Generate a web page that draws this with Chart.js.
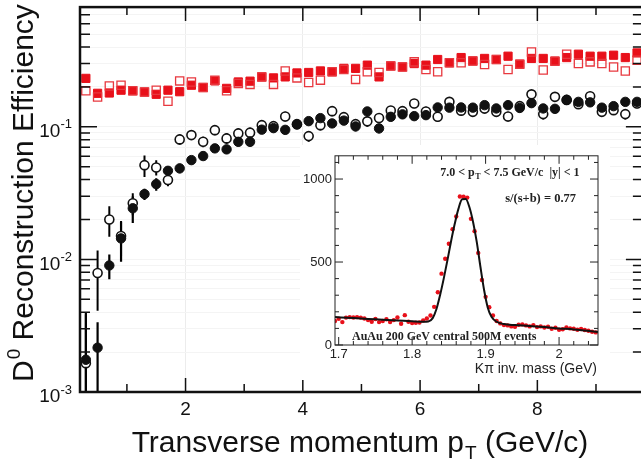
<!DOCTYPE html>
<html>
<head>
<meta charset="utf-8">
<script src="https://cdn.jsdelivr.net/npm/chart.js@4.4.0/dist/chart.umd.min.js"></script>
<style>
    html, body { margin: 0; padding: 0; background: #fff; overflow: hidden; }
    #wrap { position: relative; width: 641px; height: 468px; overflow: hidden; }
    #main { position: absolute; left: 0; top: 0; }
    #inset { position: absolute; left: 300px; top: 145px; }
</style>
</head>
<body>
<div id="wrap">
    <canvas id="main" width="650" height="468"></canvas>
    <canvas id="inset" width="310" height="235"></canvas>
</div>
<script>
// main plot: efficiency vs pT
const ptBins = [0.3, 0.5, 0.7, 0.9, 1.1, 1.3, 1.5, 1.7, 1.9, 2.1, 2.3, 2.5, 2.7, 2.9, 3.1, 3.3,
    3.5, 3.7, 3.9, 4.1, 4.3, 4.5, 4.7, 4.9, 5.1, 5.3, 5.5, 5.7, 5.9, 6.1, 6.3, 6.5,
    6.7, 6.9, 7.1, 7.3, 7.5, 7.7, 7.9, 8.1, 8.3, 8.5, 8.7, 8.9, 9.1, 9.3, 9.5, 9.7];
const redFilled = [0.232, 0.179, 0.180, 0.189, 0.187, 0.183, 0.176, 0.189, 0.184, 0.206, 0.198, 0.222, 0.195, 0.218, 0.221, 0.238,
    0.234, 0.238, 0.255, 0.257, 0.264, 0.260, 0.276, 0.276, 0.292, 0.238, 0.288, 0.283, 0.300, 0.292, 0.322, 0.304,
    0.333, 0.314, 0.328, 0.322, 0.341, 0.297, 0.328, 0.328, 0.313, 0.333, 0.353, 0.341, 0.341, 0.347, 0.333, 0.361];
const redOpen = [0.187, 0.168, 0.203, 0.206, 0.187, 0.183, 0.189, 0.156, 0.222, 0.218, 0.198, 0.225, 0.187, 0.212, 0.209, 0.238,
    0.209, 0.264, 0.234, 0.216, 0.225, 0.260, 0.271, 0.228, 0.260, 0.257, 0.288, 0.283, 0.309, 0.271, 0.260, 0.304,
    0.304, 0.314, 0.295, 0.322, 0.271, 0.297, 0.367, 0.268, 0.313, 0.353, 0.300, 0.309, 0.300, 0.283, 0.264, 0.318];
const blackFilled = [0.00175, 0.00216, 0.0090, 0.0144, 0.0243, 0.0311, 0.0370, 0.0466, 0.0486, 0.0561, 0.0602, 0.0688, 0.0676, 0.0771, 0.0771, 0.0952,
    0.0978, 0.0949, 0.1044, 0.1104, 0.1163, 0.1061, 0.1114, 0.1007, 0.1306, 0.0973, 0.1190, 0.1242, 0.1204, 0.1225, 0.1400, 0.1395,
    0.1400, 0.1395, 0.1457, 0.1376, 0.1457, 0.1388, 0.1509, 0.1376, 0.1367, 0.1597, 0.1543, 0.1530, 0.1395, 0.1432, 0.1543, 0.1543];
const blackFilledErr = [0.0022, 0.0012, 0.0019, 0.0048, 0.0055, 0.003, 0.004, 0.003, 0.004, 0.004, 0.004, 0.005, 0.005, 0.006, 0.006, 0.007,
    0.007, 0.007, 0.008, 0.008, 0.008, 0.008, 0.008, 0.008, 0.009, 0.008, 0.009, 0.009, 0.009, 0.009, 0.010, 0.010,
    0.010, 0.010, 0.010, 0.010, 0.010, 0.010, 0.011, 0.010, 0.010, 0.011, 0.011, 0.011, 0.010, 0.010, 0.011, 0.011];
const blackOpen = [0.00165, 0.0079, 0.0200, 0.0150, 0.0265, 0.0514, 0.0494, 0.0397, 0.0804, 0.0866, 0.0771, 0.0944, 0.0818, 0.0892, 0.0904, 0.1030,
    0.1012, 0.1198, 0.1048, 0.0851, 0.1030, 0.1313, 0.1183, 0.1048, 0.1100, 0.1167, 0.1329, 0.1313, 0.1500, 0.1306, 0.1190, 0.1543,
    0.1325, 0.1297, 0.1376, 0.1297, 0.1198, 0.1432, 0.1758, 0.1247, 0.1683, 0.1597, 0.1483, 0.1703, 0.1297, 0.1336, 0.1247, 0.1500];
const blackOpenErr = [0.0022, 0.0038, 0.0052, 0.0045, 0.005, 0.0095, 0.0065, 0.004, 0.007, 0.007, 0.007, 0.008, 0.008, 0.008, 0.008, 0.009,
    0.009, 0.010, 0.009, 0.008, 0.009, 0.011, 0.010, 0.009, 0.010, 0.010, 0.011, 0.011, 0.012, 0.011, 0.010, 0.013,
    0.011, 0.011, 0.012, 0.011, 0.010, 0.012, 0.014, 0.011, 0.014, 0.013, 0.012, 0.014, 0.011, 0.011, 0.011, 0.012];
const yDecades = [0.001, 0.01, 0.1];
const yDecadeLabels = ['-3', '-2', '-1'];
const xMajor = [2, 4, 6, 8];
const xMajorLabels = ['2', '4', '6', '8'];
const xMinor = [1, 3, 5, 7, 9];

// inset: invariant mass peak
const massBins = [1.695, 1.700, 1.705, 1.710, 1.715, 1.720, 1.725, 1.730, 1.735, 1.740,
    1.745, 1.750, 1.755, 1.760, 1.765, 1.770, 1.775, 1.780, 1.785, 1.790,
    1.795, 1.800, 1.805, 1.810, 1.815, 1.820, 1.825, 1.830, 1.835, 1.840,
    1.845, 1.850, 1.855, 1.860, 1.865, 1.870, 1.875, 1.880, 1.885, 1.890,
    1.895, 1.900, 1.905, 1.910, 1.915, 1.920, 1.925, 1.930, 1.935, 1.940,
    1.945, 1.950, 1.955, 1.960, 1.965, 1.970, 1.975, 1.980, 1.985, 1.990,
    1.995, 2.000, 2.005, 2.010, 2.015, 2.020, 2.025, 2.030, 2.035, 2.040,
    2.045, 2.050];
const massCounts = [145, 158, 138, 165, 168, 166, 168, 165, 160, 150,
    140, 157, 138, 145, 155, 138, 150, 166, 128, 180,
    140, 133, 134, 136, 148, 160, 178, 230, 318, 430,
    520, 610, 698, 775, 895, 893, 888, 760, 686, 555,
    392, 290, 228, 178, 145, 130, 120, 118, 112, 110,
    122, 124, 118, 112, 120, 108, 112, 105, 110, 98,
    104, 92, 95, 105, 100, 98, 92, 96, 90, 86,
    80, 76];
const fitMass = [1.695, 1.72, 1.75, 1.78, 1.80, 1.815, 1.822, 1.828, 1.833, 1.838, 1.843, 1.848, 1.853, 1.858, 1.863, 1.868,
    1.873, 1.878, 1.883, 1.888, 1.893, 1.898, 1.903, 1.908, 1.915, 1.925, 1.94, 1.96, 1.98, 2.0, 2.02, 2.035, 2.053];
const fitCounts = [168, 162, 155, 148, 143, 140, 142, 162, 215, 300, 400, 510, 625, 730, 820, 878,
    880, 830, 740, 620, 470, 330, 225, 170, 140, 126, 120, 115, 108, 100, 94, 87, 78];
const massMajor = [1.7, 1.8, 1.9, 2.0];
const massMajorLabels = ['1.7', '1.8', '1.9', '2'];
const countMajor = [0, 500, 1000];
const countMajorLabels = ['0', '500', '1000'];

const SANS = '"Liberation Sans", Arial, sans-serif';
const SERIF = '"Liberation Serif", "Times New Roman", serif';
const red = '#e8101a';
Chart.defaults.font.family = SANS;

const toXY = (xs, ys) => xs.map((x, i) => ({x: x, y: ys[i]}));

// tick positions (not data)
const yTicks = [];
yDecades.forEach(d => {
    for (let m = 1; m <= 9; m++) {
        const v = +(d * m).toPrecision(3);
        if (v <= 0.8) yTicks.push(v);
    }
});
const xTicks = xMajor.concat(xMinor).sort((a, b) => a - b);
const massTicks = [];
for (let v = 1.70; v < 2.051; v += 0.02) massTicks.push(Math.round(v * 100) / 100);
massMajor.forEach(v => { if (!massTicks.includes(v)) massTicks.push(v); });
massTicks.sort((a, b) => a - b);
const countTicks = [];
for (let v = 0; v <= 1100; v += 100) countTicks.push(v);

function drawInnerTicks(ctx, area, scale, isMajor, majorLen, minorLen) {
    ctx.beginPath();
    scale.ticks.forEach(t => {
        const len = isMajor(t.value) ? majorLen : minorLen;
        const p = scale.getPixelForValue(t.value);
        if (scale.isHorizontal()) {
            ctx.moveTo(p, area.bottom); ctx.lineTo(p, area.bottom - len);
            ctx.moveTo(p, area.top); ctx.lineTo(p, area.top + len);
        } else {
            ctx.moveTo(area.left, p); ctx.lineTo(area.left + len, p);
            ctx.moveTo(area.right, p); ctx.lineTo(area.right - len, p);
        }
    });
    ctx.stroke();
}

function drawErrors(chart, values, errs, width) {
    const {ctx, chartArea, scales: {x, y}} = chart;
    ctx.save();
    ctx.beginPath();
    ctx.rect(chartArea.left, chartArea.top, chartArea.width, chartArea.height);
    ctx.clip();
    ctx.strokeStyle = '#000';
    ctx.lineWidth = width;
    ctx.beginPath();
    values.forEach((v, i) => {
        const px = x.getPixelForValue(ptBins[i]);
        const lo = v - errs[i];
        const top = y.getPixelForValue(v + errs[i]);
        const bot = lo > 0 ? y.getPixelForValue(lo) : chartArea.bottom + 5;
        ctx.moveTo(px, top);
        ctx.lineTo(px, bot);
    });
    ctx.stroke();
    ctx.restore();
}

const mainDecor = {
    id: 'mainDecor',
    beforeDraw(chart) {
        const ctx = chart.ctx;
        ctx.save();
        ctx.fillStyle = '#fff';
        ctx.fillRect(0, 0, chart.width, chart.height);
        ctx.restore();
    },
    beforeDatasetsDraw(chart) {
        drawErrors(chart, blackOpen, blackOpenErr, 2);
        drawErrors(chart, blackFilled, blackFilledErr, 2.2);
    },
    afterDraw(chart) {
        const {ctx, chartArea: a, scales: {x, y}} = chart;
        ctx.save();
        ctx.strokeStyle = '#111';
        ctx.lineWidth = 1.5;
        drawInnerTicks(ctx, a, x, v => xMajor.includes(v), 14, 8);
        drawInnerTicks(ctx, a, y, v => yDecades.includes(v), 17, 10);
        ctx.lineWidth = 2.5;
        ctx.strokeRect(a.left, a.top, a.right - a.left, a.bottom - a.top);

        // y labels 10^n
        ctx.fillStyle = '#111';
        ctx.textBaseline = 'middle';
        yDecades.forEach((d, i) => {
            const py = y.getPixelForValue(d);
            ctx.font = '13px ' + SANS;
            const ew = ctx.measureText(yDecadeLabels[i]).width;
            const right = a.left - 8;
            ctx.textAlign = 'left';
            ctx.fillText(yDecadeLabels[i], right - ew, py - 2);
            ctx.font = '19px ' + SANS;
            ctx.textAlign = 'right';
            ctx.fillText('10', right - ew, py + 5);
        });

        // y title
        ctx.save();
        ctx.translate(33, (a.top + a.bottom) / 2 - 6);
        ctx.rotate(-Math.PI / 2);
        ctx.textBaseline = 'alphabetic';
        ctx.textAlign = 'left';
        ctx.font = '30px ' + SANS;
        const wD = ctx.measureText('D').width;
        const rest = ' Reconstruction Efficiency';
        const wRest = ctx.measureText(rest).width;
        ctx.font = '19px ' + SANS;
        const w0 = ctx.measureText('0').width;
        let sx = -(wD + w0 + wRest) / 2;
        ctx.font = '30px ' + SANS;
        ctx.fillText('D', sx, 0);
        ctx.font = '19px ' + SANS;
        ctx.fillText('0', sx + wD + 1, -13);
        ctx.font = '30px ' + SANS;
        ctx.fillText(rest, sx + wD + w0 + 1, 0);
        ctx.restore();

        // x title
        ctx.textBaseline = 'alphabetic';
        ctx.textAlign = 'left';
        const t1 = 'Transverse momentum p', t2 = 'T', t3 = ' (GeV/c)';
        ctx.font = '30px ' + SANS;
        const w1 = ctx.measureText(t1).width, w3 = ctx.measureText(t3).width;
        ctx.font = '19px ' + SANS;
        const w2 = ctx.measureText(t2).width;
        const cx = (a.left + a.right) / 2 - 2;
        let tx = cx - (w1 + w2 + w3) / 2;
        const base = 452;
        ctx.font = '30px ' + SANS;
        ctx.fillText(t1, tx, base);
        ctx.font = '19px ' + SANS;
        ctx.fillText(t2, tx + w1 + 1, base + 7);
        ctx.font = '30px ' + SANS;
        ctx.fillText(t3, tx + w1 + w2 + 1, base);
        ctx.restore();
    }
};

new Chart(document.getElementById('main'), {
    type: 'scatter',
    data: {
        datasets: [
            {
                label: 'red filled', data: toXY(ptBins, redFilled), pointStyle: 'rect', pointRadius: 5.8,
                backgroundColor: red, borderColor: red, borderWidth: 1, order: 4
            },
            {
                label: 'red open', data: toXY(ptBins, redOpen), pointStyle: 'rect', pointRadius: 5.8,
                backgroundColor: 'rgba(0,0,0,0)', borderColor: '#e8383f', borderWidth: 1.3, order: 3
            },
            {
                label: 'black open', data: toXY(ptBins, blackOpen), pointStyle: 'circle', pointRadius: 4.5,
                backgroundColor: '#fff', borderColor: '#111', borderWidth: 1.6, order: 2
            },
            {
                label: 'black filled', data: toXY(ptBins, blackFilled), pointStyle: 'circle', pointRadius: 4.7,
                backgroundColor: '#111', borderColor: '#111', borderWidth: 1, order: 1
            }
        ]
    },
    options: {
        responsive: false,
        animation: false,
        devicePixelRatio: 1,
        layout: {padding: {top: 6, right: 6, left: 0, bottom: 0}},
        plugins: {legend: {display: false}, tooltip: {enabled: false}},
        scales: {
            x: {
                type: 'linear', min: 0.2, max: 9.8,
                afterBuildTicks: s => { s.ticks = xTicks.map(v => ({value: v})); },
                afterFit: s => { s.height = 76; },
                ticks: {
                    autoSkip: false, maxRotation: 0, padding: 6, color: '#111',
                    font: {size: 19, family: SANS},
                    callback: v => { const i = xMajor.indexOf(v); return i >= 0 ? xMajorLabels[i] : ''; }
                },
                grid: {drawTicks: false, color: c => (c.tick && xMajor.includes(c.tick.value)) ? '#ececec' : 'rgba(0,0,0,0)'},
                border: {display: false}
            },
            y: {
                type: 'logarithmic', min: 0.001, max: 0.8,
                afterBuildTicks: s => { s.ticks = yTicks.map(v => ({value: v})); },
                afterFit: s => { s.width = 80; },
                ticks: {display: false},
                grid: {drawTicks: false, color: '#f4f4f4'},
                border: {display: false}
            }
        }
    },
    plugins: [mainDecor]
});

const insetDecor = {
    id: 'insetDecor',
    beforeDraw(chart) {
        const ctx = chart.ctx;
        ctx.save();
        ctx.fillStyle = '#fff';
        ctx.fillRect(0, 0, chart.width, chart.height);
        ctx.restore();
    },
    afterDraw(chart) {
        const {ctx, chartArea: a, scales: {x, y}} = chart;
        ctx.save();
        ctx.strokeStyle = '#222';
        ctx.lineWidth = 1;
        drawInnerTicks(ctx, a, x, v => massMajor.includes(v), 8, 4);
        drawInnerTicks(ctx, a, y, v => countMajor.includes(v), 8, 4);
        ctx.strokeRect(a.left, a.top, a.right - a.left, a.bottom - a.top);

        ctx.fillStyle = '#222';
        ctx.textBaseline = 'alphabetic';
        // pT window label, right aligned
        const p1 = '7.0 < p', p2 = 'T', p3 = ' < 7.5 GeV/c  |y| < 1';
        ctx.font = 'bold 12px ' + SERIF;
        const w1 = ctx.measureText(p1).width, w3 = ctx.measureText(p3).width;
        ctx.font = 'bold 8px ' + SERIF;
        const w2 = ctx.measureText(p2).width;
        let tx = a.right - 19 - (w1 + w2 + w3);
        const b1 = a.top + 20.5;
        ctx.font = 'bold 12px ' + SERIF;
        ctx.textAlign = 'left';
        ctx.fillText(p1, tx, b1);
        ctx.font = 'bold 8px ' + SERIF;
        ctx.fillText(p2, tx + w1 + 0.5, b1 + 3);
        ctx.font = 'bold 12px ' + SERIF;
        ctx.fillText(p3, tx + w1 + w2 + 0.5, b1);

        ctx.textAlign = 'right';
        ctx.font = 'bold 12.5px ' + SERIF;
        ctx.fillText('s/(s+b) = 0.77', a.right - 22, a.top + 46.5);

        ctx.textAlign = 'left';
        ctx.font = 'bold 12px ' + SERIF;
        ctx.fillText('AuAu 200 GeV central 500M events', a.left + 17, a.bottom - 5);

        ctx.font = '14px ' + SANS;
        ctx.textAlign = 'right';
        ctx.textBaseline = 'middle';
        ctx.fillText('K\u03c0 inv. mass (GeV)', a.right - 1, a.bottom + 24);
        ctx.restore();
    }
};

new Chart(document.getElementById('inset'), {
    type: 'scatter',
    data: {
        datasets: [
            {
                label: 'fit', data: toXY(fitMass, fitCounts), showLine: true, borderColor: '#111', borderWidth: 2,
                pointRadius: 0, cubicInterpolationMode: 'monotone', order: 1
            },
            {
                label: 'counts', data: toXY(massBins, massCounts), pointStyle: 'circle', pointRadius: 2.2,
                backgroundColor: red, borderColor: red, borderWidth: 0, order: 2
            }
        ]
    },
    options: {
        responsive: false,
        animation: false,
        devicePixelRatio: 1,
        layout: {padding: {top: 8, right: 12, left: 0, bottom: 0}},
        plugins: {legend: {display: false}, tooltip: {enabled: false}},
        scales: {
            x: {
                type: 'linear', min: 1.695, max: 2.053,
                afterBuildTicks: s => { s.ticks = massTicks.map(v => ({value: v})); },
                afterFit: s => { s.height = 35; },
                ticks: {
                    autoSkip: false, maxRotation: 0, padding: 2, color: '#222',
                    font: {size: 13, family: SANS},
                    callback: v => { const i = massMajor.indexOf(v); return i >= 0 ? massMajorLabels[i] : ''; }
                },
                grid: {display: false, drawTicks: false},
                border: {display: false}
            },
            y: {
                type: 'linear', min: 0, max: 1140,
                afterBuildTicks: s => { s.ticks = countTicks.map(v => ({value: v})); },
                afterFit: s => { s.width = 35; },
                ticks: {
                    autoSkip: false, padding: 3, color: '#222',
                    font: {size: 13, family: SANS},
                    callback: v => { const i = countMajor.indexOf(v); return i >= 0 ? countMajorLabels[i] : ''; }
                },
                grid: {display: false, drawTicks: false},
                border: {display: false}
            }
        }
    },
    plugins: [insetDecor]
});
</script>
</body>
</html>
